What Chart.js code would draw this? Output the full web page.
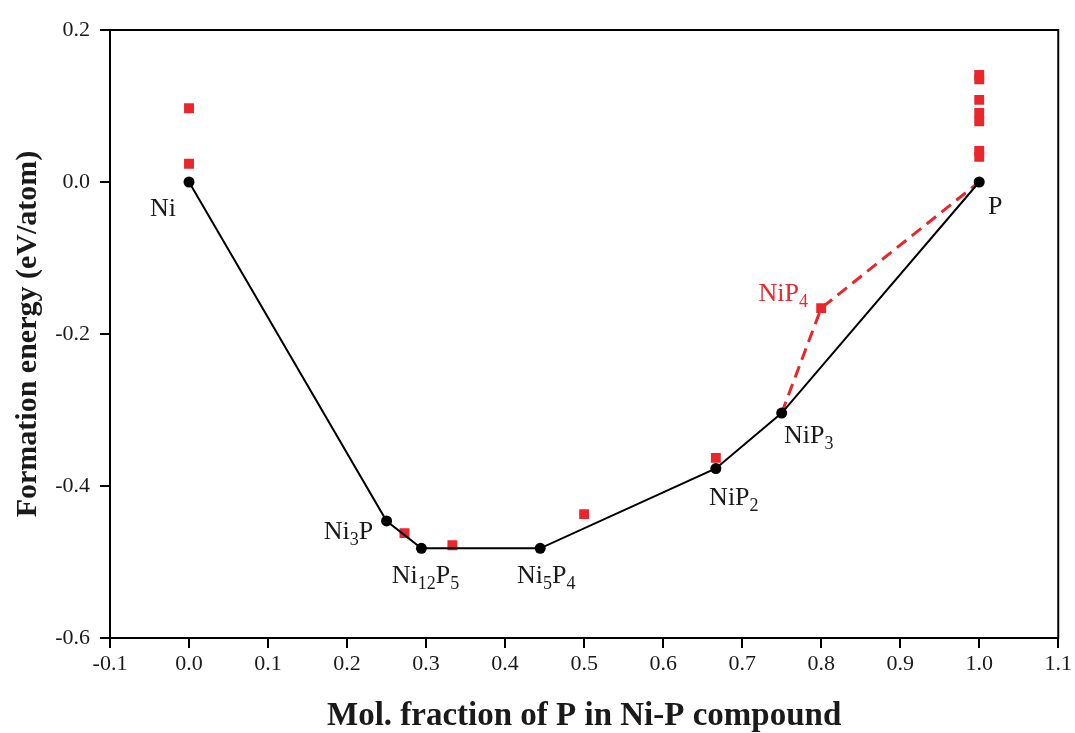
<!DOCTYPE html>
<html lang="en">
<head>
    <meta charset="UTF-8">
    <title>Ni-P formation energy</title>
    <style>
        html, body { margin: 0; padding: 0; background: #fff; }
        #wrap { width: 1075px; height: 733px; }
    </style>
</head>
<body>
    <div id="wrap"><canvas id="myCanvas"></canvas></div>
    <script src="https://cdn.jsdelivr.net/npm/chart.js@4.4.0/dist/chart.umd.min.js"></script>
    <script>

        // phases on the convex hull
        const hullX = [0, 0.25, 0.2941, 0.4444, 0.6667, 0.75, 1.0];
        const hullY = [0, -0.446, -0.482, -0.482, -0.377, -0.304, 0];
        const hullNames = ['Ni', 'Ni3P', 'Ni12P5', 'Ni5P4', 'NiP2', 'NiP3', 'P'];

        // other structures (above the hull)
        const otherX = [0, 0, 0.2727, 0.3333, 0.5, 0.6667, 0.8, 1, 1, 1, 1, 1, 1, 1];
        const otherY = [0.097, 0.024, -0.462, -0.478, -0.437, -0.363, -0.166,
                        0.141, 0.135, 0.108, 0.091, 0.080, 0.041, 0.033];

        // metastable NiP4 branch
        const metaX = [0.75, 0.8, 1.0];
        const metaY = [-0.304, -0.166, 0];
        const metaName = 'NiP4';

        const RED = '#e8262b';
        const SERIF = '"Liberation Serif", "Times New Roman", serif';

        // label offsets from the point, in px
        const hullShift = [[-26, 27], [-38, 11], [4, 28], [6, 28], [18, 30], [27, 23], [16, 25]];
        const metaShift = [-38, -14];

        function toPoints(xs, ys) {
            return xs.map((x, i) => ({ x: x, y: ys[i] }));
        }

        // chemical formula with digits as subscripts
        function drawFormula(ctx, str, cx, cy, color) {
            const parts = str.match(/\d+|\D+/g);
            const big = '26px ' + SERIF;
            const small = '18px ' + SERIF;
            let w = 0;
            parts.forEach(p => {
                ctx.font = /\d/.test(p) ? small : big;
                w += ctx.measureText(p).width;
            });
            let x = cx - w / 2;
            ctx.fillStyle = color;
            ctx.textAlign = 'left';
            ctx.textBaseline = 'middle';
            parts.forEach(p => {
                const sub = /\d/.test(p);
                ctx.font = sub ? small : big;
                ctx.fillText(p, x, cy + (sub ? 8 : 0));
                x += ctx.measureText(p).width;
            });
        }

        const phaseLabels = {
            id: 'phaseLabels',
            afterDatasetsDraw(chart) {
                const ctx = chart.ctx;
                const xs = chart.scales.x, ys = chart.scales.y;
                ctx.save();
                hullNames.forEach((name, i) => {
                    const px = xs.getPixelForValue(hullX[i]);
                    const py = ys.getPixelForValue(hullY[i]);
                    drawFormula(ctx, name, px + hullShift[i][0], py + hullShift[i][1], '#1a1a1a');
                });
                const mx = xs.getPixelForValue(metaX[1]);
                const my = ys.getPixelForValue(metaY[1]);
                drawFormula(ctx, metaName, mx + metaShift[0], my + metaShift[1], RED);
                ctx.restore();
            }
        };

        // closed frame around the plot area
        const frame = {
            id: 'frame',
            afterDraw(chart) {
                const a = chart.chartArea;
                const ctx = chart.ctx;
                ctx.save();
                ctx.strokeStyle = '#000';
                ctx.lineWidth = 2;
                ctx.strokeRect(a.left, a.top, a.right - a.left, a.bottom - a.top);
                ctx.restore();
            }
        };

        const tickFont = { family: SERIF, size: 22 };

        var ctx = document.getElementById('myCanvas').getContext('2d');
        var myChart = new Chart(ctx, {
            type: 'scatter',
            data: {
                datasets: [{
                    label: 'hull',
                    data: toPoints(hullX, hullY),
                    showLine: true,
                    borderColor: '#000',
                    borderWidth: 2,
                    pointRadius: 5.5,
                    pointBackgroundColor: '#000',
                    pointBorderWidth: 0,
                    order: 0
                }, {
                    label: 'NiP4 path',
                    data: toPoints(metaX, metaY),
                    showLine: true,
                    borderColor: RED,
                    borderWidth: 3,
                    borderDash: [12, 7],
                    pointRadius: 0,
                    order: 1
                }, {
                    label: 'other',
                    data: toPoints(otherX, otherY),
                    showLine: false,
                    pointStyle: 'rect',
                    pointRadius: 7,
                    pointBackgroundColor: RED,
                    pointBorderWidth: 0,
                    order: 2
                }]
            },
            options: {
                responsive: true,
                maintainAspectRatio: false,
                animation: false,
                layout: { padding: { top: 30, right: 15, left: 0, bottom: 0 } },
                plugins: {
                    legend: { display: false },
                    tooltip: { enabled: false }
                },
                scales: {
                    x: {
                        type: 'linear',
                        min: -0.1,
                        max: 1.1,
                        afterFit(scale) { scale.height = 95; },
                        ticks: {
                            stepSize: 0.1,
                            font: tickFont,
                            color: '#1a1a1a',
                            padding: 3,
                            maxRotation: 0,
                            autoSkip: false,
                            callback: v => v.toFixed(1)
                        },
                        grid: { drawOnChartArea: false, drawTicks: true, tickLength: 10, color: '#000', lineWidth: 2 },
                        border: { color: '#000', width: 2 },
                        title: {
                            display: true,
                            text: 'Mol. fraction of P in Ni-P compound',
                            font: { family: SERIF, size: 33, weight: 'bold', lineHeight: 1 },
                            color: '#1a1a1a',
                            padding: { top: 0, bottom: 0 }
                        }
                    },
                    y: {
                        min: -0.6,
                        max: 0.2,
                        afterFit(scale) { scale.width = 110; },
                        ticks: {
                            stepSize: 0.2,
                            font: tickFont,
                            color: '#1a1a1a',
                            padding: 10,
                            callback: v => v.toFixed(1)
                        },
                        grid: { drawOnChartArea: false, drawTicks: true, tickLength: 10, color: '#000', lineWidth: 2 },
                        border: { color: '#000', width: 2 },
                        title: {
                            display: true,
                            text: 'Formation energy (eV/atom)',
                            font: { family: SERIF, size: 30, weight: 'bold', lineHeight: 1 },
                            color: '#1a1a1a',
                            padding: { top: 13, bottom: 0 }
                        }
                    }
                }
            },
            plugins: [phaseLabels, frame]
        });
    </script>
</body>
</html>
